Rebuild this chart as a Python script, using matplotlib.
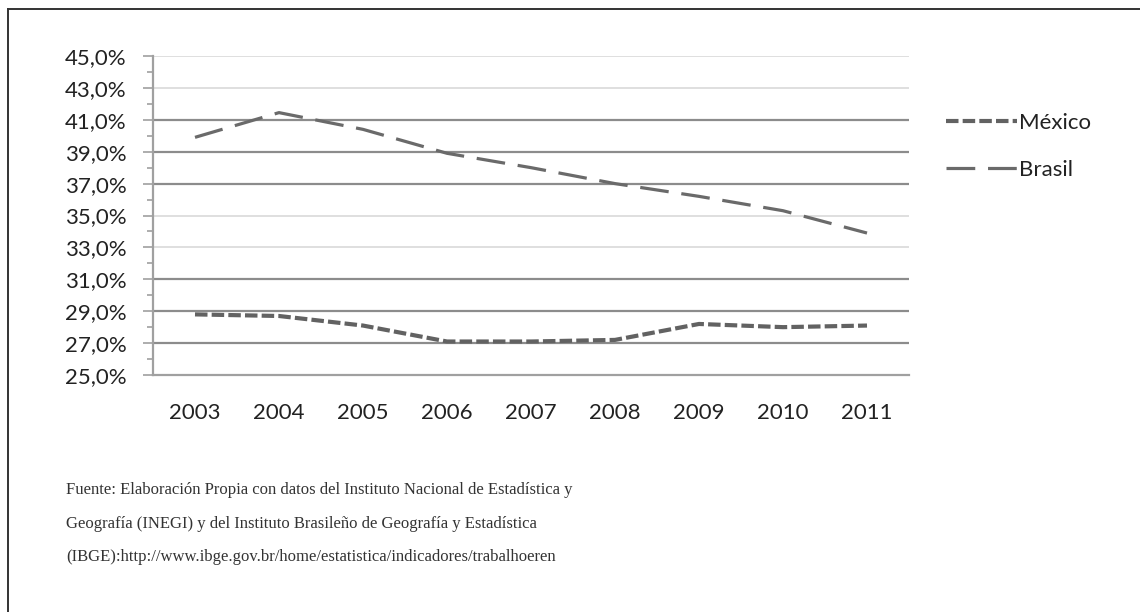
import matplotlib.pyplot as plt
from matplotlib.lines import Line2D
from matplotlib.ticker import FuncFormatter

years = ['2003', '2004', '2005', '2006', '2007', '2008', '2009', '2010', '2011']
mexico = [28.8, 28.7, 28.1, 27.1, 27.1, 27.2, 28.2, 28.0, 28.1]
brasil = [39.9, 41.45, 40.4, 38.9, 38.0, 37.0, 36.2, 35.3, 33.9]
yticks = [25, 27, 29, 31, 33, 35, 37, 39, 41, 43, 45]
yminor = [26, 28, 30, 32, 34, 36, 38, 40, 42, 44]
dark_grid = [27, 29, 31, 37, 39, 41]
light_grid = [33, 35, 43, 45]
fuente = [
    'Fuente: Elaboración Propia con datos del Instituto Nacional de Estadística y',
    'Geografía (INEGI) y del Instituto Brasileño de Geografía y Estadística',
    '(IBGE):http://www.ibge.gov.br/home/estatistica/indicadores/trabalhoeren',
]

plt.rcParams['font.family'] = ['Lato', 'DejaVu Sans']

fig = plt.figure(figsize=(11.4, 6.12), dpi=100)
ax = fig.add_axes([153 / 1140, 1 - 375 / 612, (909 - 153) / 1140, (375 - 56) / 612])

x = list(range(len(years)))
for g in light_grid:
    ax.axhline(g, color='#d9d9d9', lw=1.2, zorder=1)
for g in dark_grid:
    ax.axhline(g, color='#8c8c8c', lw=1.6, zorder=1)

ax.plot(x, mexico, color='#626262', lw=3.0, dashes=(3.0, 1.0), label='México', zorder=3)
ax.plot(x, brasil, color='#6a6a6a', lw=2.3, dashes=(9, 4), label='Brasil', zorder=3)

ax.set_xlim(-0.5, len(years) - 0.5)
ax.set_ylim(25, 45)
ax.set_xticks(x)
ax.set_xticklabels(years)
ax.set_yticks(yticks)
ax.set_yticks(yminor, minor=True)
ax.yaxis.set_major_formatter(FuncFormatter(lambda v, p: f'{v:.1f}%'.replace('.', ',')))

for s in ['top', 'right']:
    ax.spines[s].set_visible(False)
for s in ['left', 'bottom']:
    ax.spines[s].set_color('#a0a0a0')
    ax.spines[s].set_linewidth(1.6)

ax.tick_params(axis='y', which='major', length=7, width=1.2, color='#a0a0a0',
               labelsize=16, labelcolor='#222222', pad=12)
ax.tick_params(axis='y', which='minor', length=4, width=1.2, color='#a0a0a0')
ax.tick_params(axis='x', length=0, labelsize=16, labelcolor='#222222', pad=20)

ax.legend(loc='center left', bbox_to_anchor=(1.022, 0.716), frameon=False,
          fontsize=16, handlelength=3.2, handletextpad=0.1, labelspacing=1.2,
          labelcolor='#222222')

for i, line in enumerate(fuente):
    fig.text(66 / 1140, 1 - (490 + i * 33.5) / 612, line, family='Liberation Serif',
             fontsize=12, color='#333333', va='center', ha='left')

fig.add_artist(Line2D([8 / 1140, 8 / 1140], [0, 1 - 9 / 612], color='#333333', lw=1.4))
fig.add_artist(Line2D([8 / 1140, 1], [1 - 9 / 612, 1 - 9 / 612], color='#333333', lw=1.4))

fig.savefig('out.png', dpi=100)
